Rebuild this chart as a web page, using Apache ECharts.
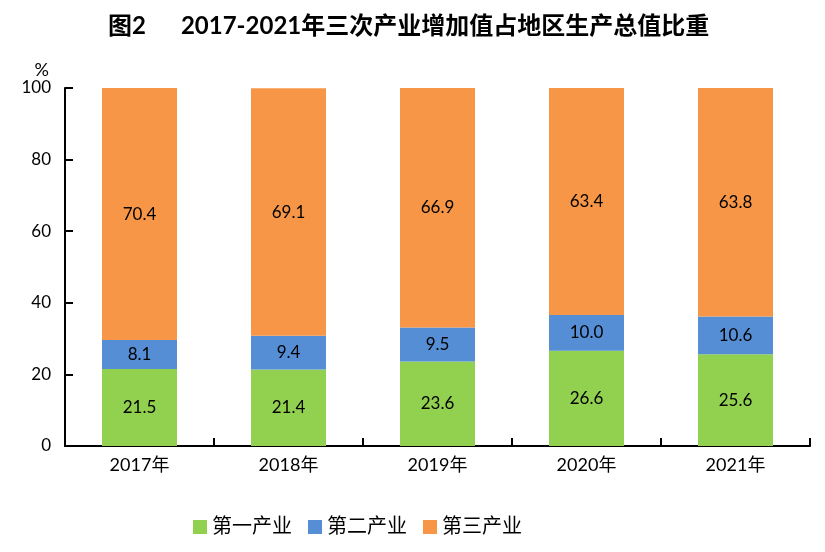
<!DOCTYPE html>
<html><head><meta charset="utf-8">
<script src="https://cdn.jsdelivr.net/npm/echarts@6/dist/echarts.min.js"></script>
<style>html,body{margin:0;padding:0;background:#fff}#c{width:825px;height:552px}</style>
</head><body><div id="c"></div>
<script>
var categories = ['2017年','2018年','2019年','2020年','2021年'];
var primary = [21.5, 21.4, 23.6, 26.6, 25.6];
var secondary = [8.1, 9.4, 9.5, 10.0, 10.6];
var tertiary = [70.4, 69.1, 66.9, 63.4, 63.8];
var seriesNames = ['第一产业','第二产业','第三产业'];
var FONT = 'Lato, "Noto Sans CJK SC", sans-serif';
var chart = echarts.init(document.getElementById('c'));
function s(name, data, color){
  return {name:name,type:'bar',stack:'t',data:data,barWidth:75,
    itemStyle:{color:color},
    label:{show:true,position:'inside',color:'#000',fontSize:17,fontFamily:FONT,
      formatter:function(p){return p.value.toFixed(1);}}};
}
chart.setOption({
  animation:false,
  title:{text:'图2      2017-2021年三次产业增加值占地区生产总值比重',left:103,top:9,
    textStyle:{fontSize:24,fontWeight:'bold',color:'#000',fontFamily:FONT}},
  legend:{bottom:10,left:188,itemWidth:14,itemHeight:14,itemGap:16,icon:'rect',
    textStyle:{fontSize:20,color:'#000',fontFamily:FONT},data:seriesNames},
  grid:{left:65,right:15,top:88,bottom:106},
  xAxis:{type:'category',data:categories,
    axisLine:{lineStyle:{color:'#000',width:2}},
    axisTick:{show:true,inside:true,length:8,lineStyle:{color:'#000',width:2}},
    axisLabel:{fontSize:18,color:'#000',fontFamily:FONT,margin:10}},
  yAxis:{type:'value',min:0,max:100,interval:20,name:'%',nameGap:6,
    nameTextStyle:{fontSize:18,color:'#000',fontFamily:FONT,align:'right',padding:[0,16,0,0]},
    axisLine:{show:true,lineStyle:{color:'#000',width:2}},
    axisTick:{show:true,inside:true,length:8,lineStyle:{color:'#000',width:2}},
    splitLine:{show:false},
    axisLabel:{fontSize:17,color:'#000',fontFamily:FONT,margin:14}},
  series:[s(seriesNames[0],primary,'#92D050'),s(seriesNames[1],secondary,'#558ED5'),s(seriesNames[2],tertiary,'#F79646')]
});
</script></body></html>
